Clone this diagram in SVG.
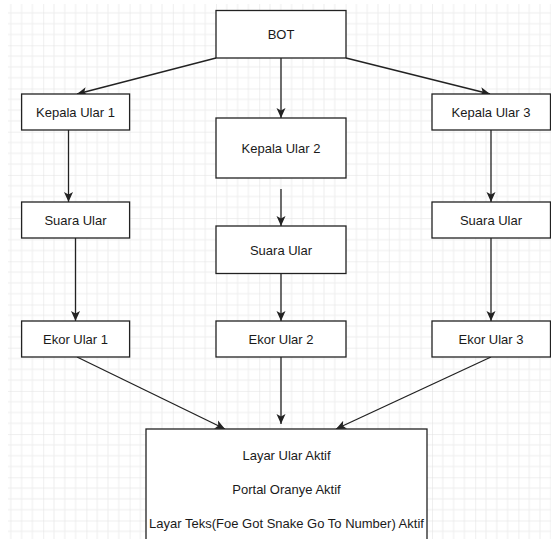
<svg xmlns="http://www.w3.org/2000/svg" width="551" height="539" viewBox="0 0 551 539">
<style>
.box{fill:#fff;stroke:#222;stroke-width:1.3}
.lbl{font-family:"Liberation Sans",Arial,sans-serif;font-size:13px;fill:#1a1a1a;text-anchor:middle}
.edge{fill:none;stroke:#222;stroke-width:1.3;marker-end:url(#arr)}
</style>
<defs>
<pattern id="grid" patternUnits="userSpaceOnUse" x="0" y="2.1" width="43.2" height="43.2">
<path d="M10.8,0V43.2M21.6,0V43.2M32.4,0V43.2M0,10.8H43.2M0,21.6H43.2M0,32.4H43.2" stroke="#eeeeee" stroke-width="1" fill="none"/>
<path d="M0,0V43.2M0,0H43.2" stroke="#e0e0e0" stroke-width="1" fill="none"/>
</pattern>
<marker id="arr" viewBox="0 0 10 10" refX="10" refY="5" markerWidth="10" markerHeight="10" markerUnits="userSpaceOnUse" orient="auto">
<path d="M0,0.5L10,5L0,9.5L2.5,5z" fill="#222"/>
</marker>
</defs>
<rect x="0" y="0" width="551" height="539" fill="#fff"/>
<rect x="8" y="4" width="543" height="535" fill="url(#grid)"/>
<g id="connectors">
<line class="edge" x1="216" y1="58" x2="77" y2="94"/>
<line class="edge" x1="281" y1="58" x2="281" y2="118"/>
<line class="edge" x1="346" y1="58" x2="490" y2="94"/>
<line class="edge" x1="68.5" y1="130" x2="68.5" y2="202"/>
<line class="edge" x1="281" y1="189" x2="281" y2="226"/>
<line class="edge" x1="491" y1="130" x2="491" y2="202"/>
<line class="edge" x1="75.5" y1="238" x2="75.5" y2="321"/>
<line class="edge" x1="281" y1="274" x2="281" y2="321"/>
<line class="edge" x1="491" y1="238" x2="491" y2="321"/>
<line class="edge" x1="77" y1="357" x2="225" y2="429"/>
<line class="edge" x1="281" y1="357" x2="281" y2="424"/>
<line class="edge" x1="491" y1="357" x2="336" y2="429"/>
</g>
<g id="bot"><rect class="box" x="216" y="10.5" width="130" height="47.5"/><text class="lbl" x="281" y="39">BOT</text></g>
<g id="kepala1"><rect class="box" x="21.6" y="94" width="108" height="36"/><text class="lbl" x="75.5" y="117">Kepala Ular 1</text></g>
<g id="kepala2"><rect class="box" x="216" y="118" width="130" height="60"/><text class="lbl" x="281" y="153">Kepala Ular 2</text></g>
<g id="kepala3"><rect class="box" x="432" y="94" width="118.5" height="36"/><text class="lbl" x="491" y="117">Kepala Ular 3</text></g>
<g id="suara1"><rect class="box" x="21.6" y="202" width="108" height="36"/><text class="lbl" x="75.5" y="225">Suara Ular</text></g>
<g id="suara2"><rect class="box" x="216" y="226" width="130" height="47.5"/><text class="lbl" x="281" y="254.5">Suara Ular</text></g>
<g id="suara3"><rect class="box" x="432" y="202" width="118.5" height="36"/><text class="lbl" x="491" y="225">Suara Ular</text></g>
<g id="ekor1"><rect class="box" x="21.6" y="321" width="108" height="36"/><text class="lbl" x="75.5" y="344">Ekor Ular 1</text></g>
<g id="ekor2"><rect class="box" x="216" y="321" width="130" height="36"/><text class="lbl" x="281" y="344">Ekor Ular 2</text></g>
<g id="ekor3"><rect class="box" x="432" y="321" width="118.5" height="36"/><text class="lbl" x="491" y="344">Ekor Ular 3</text></g>
<g id="layar"><rect class="box" x="146" y="429" width="281" height="120"/>
<text class="lbl" x="286.5" y="460">Layar Ular Aktif</text>
<text class="lbl" x="286.5" y="494">Portal Oranye Aktif</text>
<text class="lbl" x="286.5" y="527.5">Layar Teks(Foe Got Snake Go To Number) Aktif</text>
</g>
</svg>
